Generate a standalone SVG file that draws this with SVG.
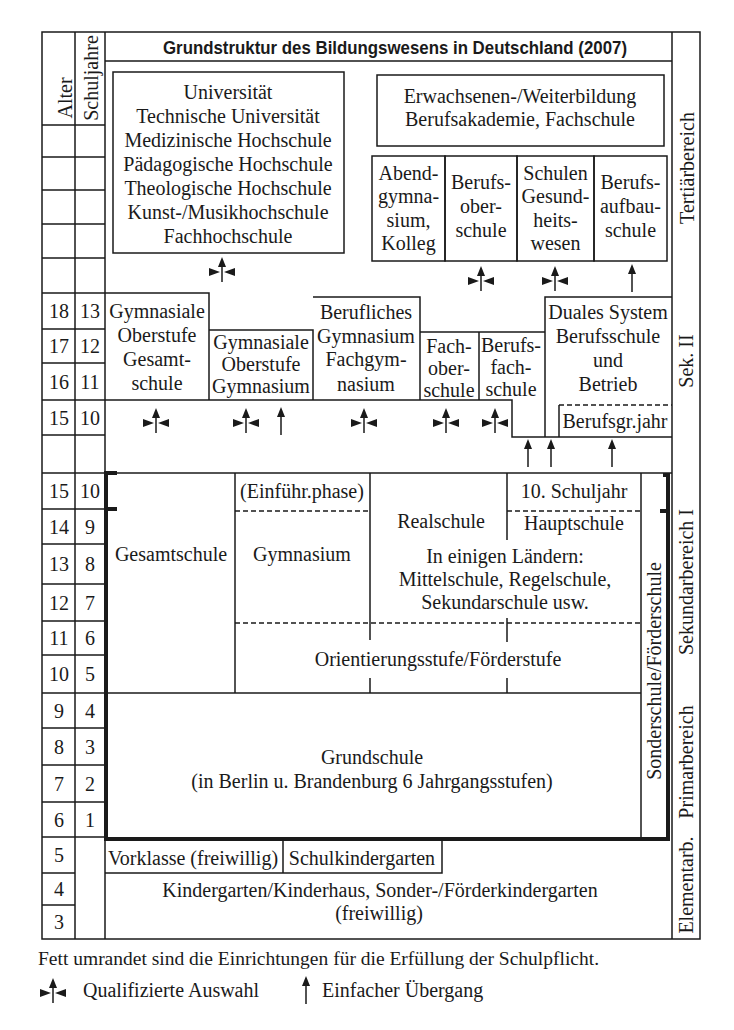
<svg xmlns="http://www.w3.org/2000/svg" xmlns:xlink="http://www.w3.org/1999/xlink" width="734" height="1030" viewBox="0 0 734 1030">
<style>
.ln{fill:none;stroke:#1a1a1a;stroke-width:1.5}
.bd{fill:none;stroke:#1a1a1a;stroke-width:4}
.ds{fill:none;stroke:#1a1a1a;stroke-width:1.3;stroke-dasharray:5,3}
.t{font-family:"Liberation Serif","Times New Roman",serif;font-size:20px;fill:#1a1a1a;text-anchor:middle}
.tl{font-family:"Liberation Serif","Times New Roman",serif;font-size:20px;fill:#1a1a1a}
.ttl{font-family:"Liberation Sans Narrow","Liberation Sans",Arial,sans-serif;font-size:18px;font-weight:bold;fill:#1a1a1a;text-anchor:middle}
.ar{fill:#1a1a1a;stroke:none}
.as{stroke:#1a1a1a;stroke-width:1.5}
</style>
<defs>
<g id="qs"><line class="as" x1="0" y1="8" x2="0" y2="25"/><polygon class="ar" points="0,0 -4,10 4,10"/><polygon class="ar" points="-13,11 -13,19 -2,15"/><polygon class="ar" points="13,11 13,19 2,15"/></g>
<g id="sa"><line class="as" x1="0" y1="8" x2="0" y2="28"/><polygon class="ar" points="0,0 -4,10 4,10"/></g>
</defs>
<rect x="0" y="0" width="734" height="1030" fill="#fff"/>

<g id="frame">
<rect class="ln" x="42" y="32" width="658" height="907"/>
<path class="ln" d="M75,32V939 M105,32V939 M672,32V939 M105,61H672"/>
<path class="ln" d="M42,125H105 M42,157H105 M42,190H105 M42,224H105 M42,258H105 M42,293H105 M42,329H105 M42,363H105 M42,400H105 M42,435H105 M42,473H105 M42,509H105 M42,544H105 M42,584H105 M42,621H105 M42,655H105 M42,693H105 M42,728H105 M42,765H105 M42,802H105 M42,837H105 M42,873H75 M42,905H75"/>
<text class="ttl" x="395" y="54" textLength="464" lengthAdjust="spacingAndGlyphs">Grundstruktur des Bildungswesens in Deutschland (2007)</text>
</g>

<g id="axis-labels">
<text class="t" transform="translate(72,98) rotate(-90)">Alter</text>
<text class="t" transform="translate(98,78) rotate(-90)">Schuljahre</text>
<text class="t" x="59" y="318">18</text><text class="t" x="90" y="318">13</text>
<text class="t" x="59" y="353">17</text><text class="t" x="90" y="353">12</text>
<text class="t" x="59" y="389">16</text><text class="t" x="90" y="389">11</text>
<text class="t" x="59" y="425">15</text><text class="t" x="90" y="425">10</text>
<text class="t" x="59" y="498">15</text><text class="t" x="90" y="498">10</text>
<text class="t" x="59" y="534">14</text><text class="t" x="90" y="534">9</text>
<text class="t" x="59" y="571">13</text><text class="t" x="90" y="571">8</text>
<text class="t" x="59" y="610">12</text><text class="t" x="90" y="610">7</text>
<text class="t" x="59" y="645">11</text><text class="t" x="90" y="645">6</text>
<text class="t" x="59" y="681">10</text><text class="t" x="90" y="681">5</text>
<text class="t" x="59" y="718">9</text><text class="t" x="90" y="718">4</text>
<text class="t" x="59" y="754">8</text><text class="t" x="90" y="754">3</text>
<text class="t" x="59" y="791">7</text><text class="t" x="90" y="791">2</text>
<text class="t" x="59" y="827">6</text><text class="t" x="90" y="827">1</text>
<text class="t" x="59" y="862">5</text>
<text class="t" x="59" y="896">4</text>
<text class="t" x="59" y="929">3</text>
</g>

<g id="area-labels">
<text class="t" transform="translate(694,168) rotate(-90)">Tertiärbereich</text>
<text class="t" transform="translate(693,361) rotate(-90)">Sek. II</text>
<text class="t" transform="translate(693,582) rotate(-90)">Sekundarbereich I</text>
<text class="t" transform="translate(693,762) rotate(-90)">Primarbereich</text>
<text class="t" transform="translate(693,885) rotate(-90)">Elementarb.</text>
</g>

<g id="universitaet">
<rect class="ln" x="113" y="72" width="231" height="181"/>
<text class="t" x="228" y="99">Universität</text>
<text class="t" x="228" y="123">Technische Universität</text>
<text class="t" x="228" y="147">Medizinische Hochschule</text>
<text class="t" x="228" y="171">Pädagogische Hochschule</text>
<text class="t" x="228" y="195">Theologische Hochschule</text>
<text class="t" x="228" y="219">Kunst-/Musikhochschule</text>
<text class="t" x="228" y="243">Fachhochschule</text>
</g>

<g id="erwachsenenbildung">
<rect class="ln" x="377" y="75" width="287" height="71"/>
<text class="t" x="520" y="103">Erwachsenen-/Weiterbildung</text>
<text class="t" x="520" y="126">Berufsakademie, Fachschule</text>
</g>

<g id="abendgymnasium">
<rect class="ln" x="372" y="156" width="73" height="105"/>
<text class="t" x="408.5" y="180">Abend-</text>
<text class="t" x="408.5" y="203">gymna-</text>
<text class="t" x="408.5" y="227">sium,</text>
<text class="t" x="408.5" y="250">Kolleg</text>
</g>
<g id="berufsoberschule">
<rect class="ln" x="445" y="156" width="72" height="105"/>
<text class="t" x="481" y="189">Berufs-</text>
<text class="t" x="481" y="213">ober-</text>
<text class="t" x="481" y="237">schule</text>
</g>
<g id="gesundheitswesen">
<rect class="ln" x="517" y="156" width="77" height="105"/>
<text class="t" x="555.5" y="180">Schulen</text>
<text class="t" x="555.5" y="203">Gesund-</text>
<text class="t" x="555.5" y="227">heits-</text>
<text class="t" x="555.5" y="250">wesen</text>
</g>
<g id="berufsaufbauschule">
<rect class="ln" x="594" y="156" width="73" height="105"/>
<text class="t" x="630.5" y="189">Berufs-</text>
<text class="t" x="630.5" y="213">aufbau-</text>
<text class="t" x="630.5" y="237">schule</text>
</g>

<g id="gym-oberstufe-gesamtschule">
<path class="ln" d="M105,293H209V400"/>
<text class="t" x="157" y="318">Gymnasiale</text>
<text class="t" x="157" y="342">Oberstufe</text>
<text class="t" x="157" y="366">Gesamt-</text>
<text class="t" x="157" y="390">schule</text>
</g>
<g id="gym-oberstufe-gymnasium">
<path class="ln" d="M209,330H313V400"/>
<text class="t" x="261" y="349">Gymnasiale</text>
<text class="t" x="261" y="371">Oberstufe</text>
<text class="t" x="261" y="393">Gymnasium</text>
</g>
<g id="berufliches-gymnasium">
<path class="ln" d="M313,297H420V400"/>
<text class="t" x="366" y="319">Berufliches</text>
<text class="t" x="366" y="343">Gymnasium</text>
<text class="t" x="366" y="366">Fachgym-</text>
<text class="t" x="366" y="391">nasium</text>
</g>
<g id="fachoberschule">
<path class="ln" d="M420,332H545 M479,332V400"/>
<text class="t" x="449" y="353">Fach-</text>
<text class="t" x="449" y="375">ober-</text>
<text class="t" x="449" y="397">schule</text>
</g>
<g id="berufsfachschule">
<path class="ln" d="M105,400H512V437H672"/>
<text class="t" x="511" y="352">Berufs-</text>
<text class="t" x="511" y="374">fach-</text>
<text class="t" x="511" y="396">schule</text>
</g>
<g id="duales-system">
<path class="ln" d="M545,437V297H672"/>
<text class="t" x="608" y="319">Duales System</text>
<text class="t" x="608" y="343">Berufsschule</text>
<text class="t" x="608" y="367">und</text>
<text class="t" x="608" y="391">Betrieb</text>
</g>
<g id="berufsgrundbildungsjahr">
<path class="ds" d="M559,405H672"/>
<path class="ln" d="M559,405V437"/>
<text class="t" x="615" y="428">Berufsgr.jahr</text>
</g>

<g id="sek1-frame">
<path class="ln" d="M105,473H672"/>
<path class="bd" d="M117,473H106V839H670 M106,509H117 M663,475H668V839 M660,511H668"/>
</g>
<g id="gesamtschule">
<path class="ln" d="M235,473V693"/>
<text class="t" x="171" y="561">Gesamtschule</text>
</g>
<g id="gymnasium">
<path class="ln" d="M370,473V640 M370,678V693"/>
<path class="ds" d="M235,511H370"/>
<text class="t" x="302" y="498">(Einführ.phase)</text>
<text class="t" x="302" y="561">Gymnasium</text>
</g>
<g id="realschule">
<path class="ln" d="M507,473V540 M507,618V642 M507,678V693"/>
<text class="t" x="441" y="528">Realschule</text>
</g>
<g id="hauptschule">
<path class="ds" d="M507,511H641"/>
<text class="t" x="574" y="498">10. Schuljahr</text>
<text class="t" x="574" y="530">Hauptschule</text>
</g>
<g id="andere-schularten">
<text class="t" x="505" y="563">In einigen Ländern:</text>
<text class="t" x="505" y="586">Mittelschule, Regelschule,</text>
<text class="t" x="505" y="609">Sekundarschule usw.</text>
</g>
<g id="orientierungsstufe">
<path class="ds" d="M235,623H641"/>
<text class="t" x="438" y="666">Orientierungsstufe/Förderstufe</text>
</g>
<g id="sonderschule">
<path class="ln" d="M641,473V839"/>
<text class="t" transform="translate(661,671) rotate(-90)">Sonderschule/Förderschule</text>
</g>
<g id="grundschule">
<path class="ln" d="M105,693H641"/>
<text class="t" x="372" y="764">Grundschule</text>
<text class="t" x="372" y="788">(in Berlin u. Brandenburg 6 Jahrgangsstufen)</text>
</g>

<g id="vorklasse">
<path class="ln" d="M105,873H442V839 M283,839V873"/>
<text class="t" x="193" y="865">Vorklasse (freiwillig)</text>
</g>
<g id="schulkindergarten">
<text class="t" x="362" y="865">Schulkindergarten</text>
</g>
<g id="kindergarten">
<text class="t" x="380" y="897">Kindergarten/Kinderhaus, Sonder-/Förderkindergarten</text>
<text class="t" x="379" y="920">(freiwillig)</text>
</g>

<g id="connectors">
<use xlink:href="#qs" href="#qs" x="222" y="257"/>
<use xlink:href="#qs" href="#qs" x="481" y="266"/>
<use xlink:href="#qs" href="#qs" x="555" y="266"/>
<use xlink:href="#sa" href="#sa" x="632" y="264"/>
<use xlink:href="#qs" href="#qs" x="156" y="408"/>
<use xlink:href="#qs" href="#qs" x="246" y="408"/>
<use xlink:href="#sa" href="#sa" x="281" y="407"/>
<use xlink:href="#qs" href="#qs" x="364" y="408"/>
<use xlink:href="#qs" href="#qs" x="446" y="408"/>
<use xlink:href="#qs" href="#qs" x="495" y="408"/>
<use xlink:href="#sa" href="#sa" x="528" y="439"/>
<use xlink:href="#sa" href="#sa" x="551" y="439"/>
<use xlink:href="#sa" href="#sa" x="612" y="439"/>
</g>

<g id="legend">
<text class="tl" x="38" y="965" style="font-size:19.5px">Fett umrandet sind die Einrichtungen für die Erfüllung der Schulpflicht.</text>
<use xlink:href="#qs" href="#qs" x="53" y="978"/>
<text class="tl" x="83" y="997">Qualifizierte Auswahl</text>
<use xlink:href="#sa" href="#sa" x="306" y="976"/>
<text class="tl" x="322" y="997">Einfacher Übergang</text>
</g>
</svg>
